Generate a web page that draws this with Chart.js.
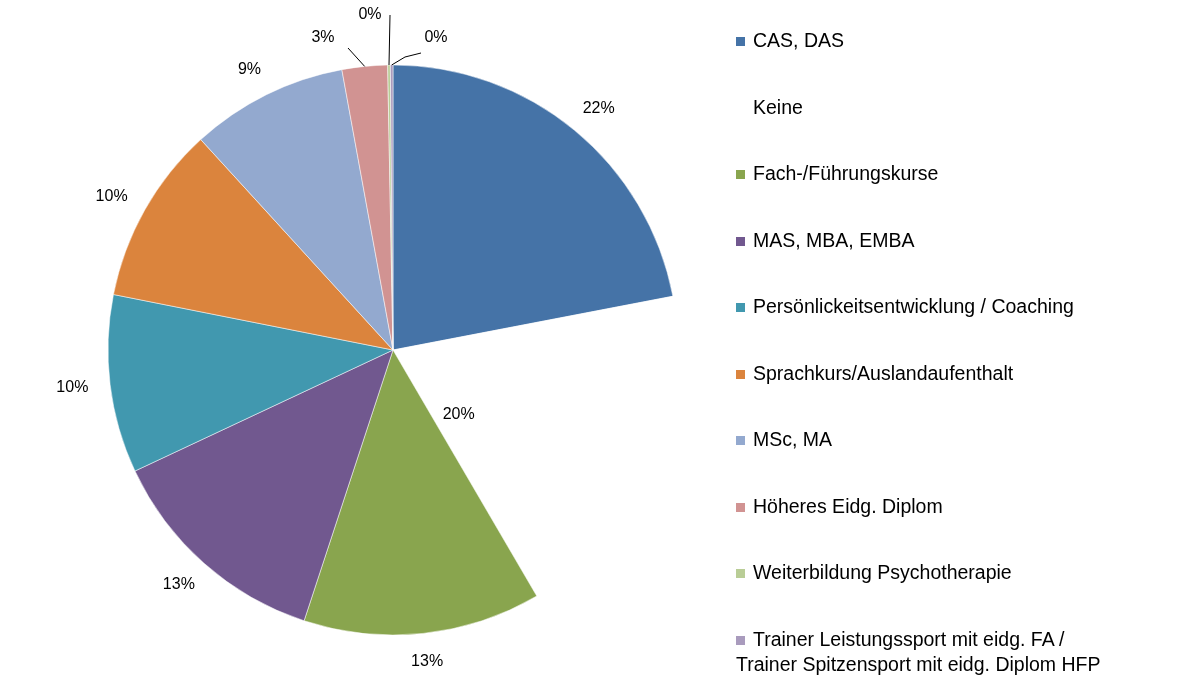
<!DOCTYPE html>
<html><head><meta charset="utf-8">
<script src="https://cdn.jsdelivr.net/npm/chart.js@4"></script>
<style>
body{margin:0;background:#fff;font-family:"Liberation Sans",Arial,sans-serif;}
#wrap{position:relative;width:1200px;height:700px;}
#legend{position:absolute;left:736px;top:28px;}
.li{position:absolute;left:0;font-size:19.5px;color:#000;white-space:nowrap;line-height:25px;}
.li span.b{display:inline-block;width:9px;height:9px;margin-right:8px;vertical-align:1px;}
</style></head><body>
<div id="wrap"><canvas id="c" width="1200" height="700"></canvas><div id="legend"></div></div>
<script>
const categories=["CAS, DAS","Keine","Fach-/Führungskurse","MAS, MBA, EMBA","Persönlickeitsentwicklung / Coaching","Sprachkurs/Auslandaufenthalt","MSc, MA","Höheres Eidg. Diplom","Weiterbildung Psychotherapie","Trainer Leistungssport mit eidg. FA /\nTrainer Spitzensport mit eidg. Diplom HFP"];
const values=[22.2,19.8,13.6,13.1,10.2,10.2,9.0,2.6,0.15,0.15];
const labels=["22%","20%","13%","13%","10%","10%","9%","3%","0%","0%"];
const colors=["#4573A7","#FFFFFF","#89A54E","#71588F","#4198AF","#DB843D","#93A9CF","#D19392","#B9CD96","#A99BBD"];

const lg=document.getElementById('legend');
categories.forEach((c,i)=>{const d=document.createElement('div');d.className='li';d.style.top=(i*66.5)+'px';
 d.innerHTML=(i===1?'<span class="b" style="background:transparent"></span>':'<span class="b" style="background:'+colors[i]+'"></span>')+c.replace('\n','<br>');lg.appendChild(d);});

const labelPlugin={id:'lbl',afterDatasetsDraw(chart){
 const ctx=chart.ctx;const arcs=chart.getDatasetMeta(0).data;
 ctx.save();ctx.font='16px "Liberation Sans", Arial';ctx.fillStyle='#000';ctx.textAlign='center';ctx.textBaseline='middle';
 arcs.forEach((a,i)=>{
  const mid=(a.startAngle+a.endAngle)/2;const R=a.outerRadius;
  let x,y;
  if(i===1){x=a.x+92*Math.cos(mid+0.35);y=a.y+92*Math.sin(mid+0.35);}
  else if(i===8){ctx.strokeStyle='#000';ctx.lineWidth=1;ctx.beginPath();ctx.moveTo(a.x+R*Math.cos(mid),a.y+R*Math.sin(mid));ctx.lineTo(a.x-3,a.y-R-50);ctx.stroke();x=a.x-23;y=a.y-R-50;}
  else if(i===9){ctx.strokeStyle='#000';ctx.lineWidth=1;ctx.beginPath();ctx.moveTo(a.x+R*Math.cos(mid),a.y+R*Math.sin(mid));ctx.lineTo(a.x+12,a.y-R-8);ctx.lineTo(a.x+28,a.y-R-12);ctx.stroke();x=a.x+43;y=a.y-R-27;}
  else if(i===7){ctx.strokeStyle='#000';ctx.beginPath();ctx.moveTo(a.x+R*Math.cos(mid),a.y+R*Math.sin(mid));ctx.lineTo(a.x-45,a.y-R-17);ctx.stroke();x=a.x-70;y=a.y-R-27;}
  else {x=a.x+(R+38)*Math.cos(mid);y=a.y+(R+28)*Math.sin(mid);}
  ctx.fillText(labels[i],x,y);
 });ctx.restore();}};

new Chart(document.getElementById('c'),{type:'pie',
 data:{labels:categories,datasets:[{data:values,backgroundColor:colors,borderColor:'#fff',borderWidth:0.5}]},
 options:{responsive:false,animation:false,radius:285,layout:{padding:{left:0,right:414,top:0,bottom:0}},
  plugins:{legend:{display:false},tooltip:{enabled:false}}},
 plugins:[labelPlugin]});
</script></body></html>
